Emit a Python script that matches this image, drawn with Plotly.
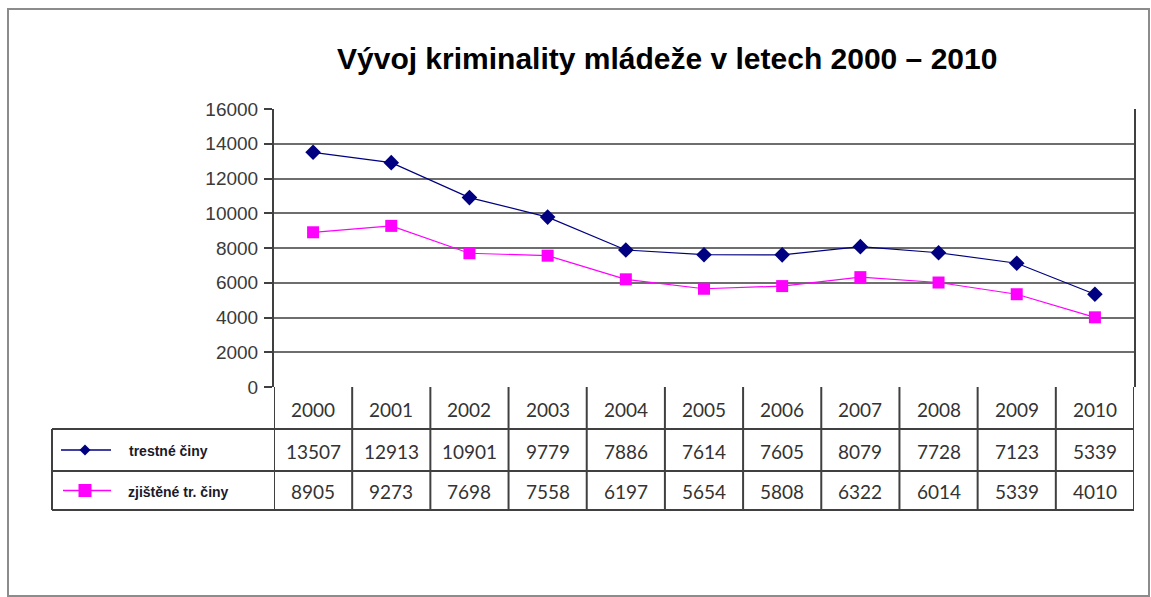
import plotly.graph_objects as go

years = ["2000", "2001", "2002", "2003", "2004", "2005", "2006", "2007", "2008", "2009", "2010"]
trestne = [13507, 12913, 10901, 9779, 7886, 7614, 7605, 8079, 7728, 7123, 5339]
zjistene = [8905, 9273, 7698, 7558, 6197, 5654, 5808, 6322, 6014, 5339, 4010]
series_names = ["trestné činy", "zjištěné tr. činy"]
title = "Vývoj kriminality mládeže v letech 2000 – 2010"

W, H = 1151, 597
def px(x):
    return x / W
def py(y):
    return 1 - y / H

PL, PR, PT, PB = 274, 1134, 109, 387   # plot area in pixels
TB = 510                               # table bottom
ROW1, ROW2 = 429, 471                  # table row lines
TL = 52                                # table left edge

idx = list(range(len(years)))
NAVY = "#000080"
PINK = "#FF00FF"
GRID = "#6e6e6e"
LINE = "#404040"
TXT = "#333333"

fig = go.Figure()
fig.add_trace(go.Scatter(x=idx, y=trestne, mode="lines+markers", name=series_names[0],
                         line=dict(color=NAVY, width=1.2),
                         marker=dict(symbol="diamond", size=12, color=NAVY)))
fig.add_trace(go.Scatter(x=idx, y=zjistene, mode="lines+markers", name=series_names[1],
                         line=dict(color=PINK, width=1.2),
                         marker=dict(symbol="square", size=12, color=PINK)))

shapes = []
ann = []

# outer frame
shapes.append(dict(type="rect", xref="paper", yref="paper", x0=px(8), x1=px(1149), y0=py(596), y1=py(9),
                   line=dict(color="#8c8c8c", width=2)))

# table vertical lines (category boundaries)
for i in range(len(years) + 1):
    shapes.append(dict(type="line", xref="x", yref="paper", x0=i - 0.5, x1=i - 0.5,
                       y0=py(TB), y1=py(PB), line=dict(color=LINE, width=2)))
# table left edge
shapes.append(dict(type="line", xref="paper", yref="paper", x0=px(TL), x1=px(TL),
                   y0=py(TB), y1=py(ROW1), line=dict(color=LINE, width=2)))
# table horizontal lines
for yy in (ROW1, ROW2, TB):
    shapes.append(dict(type="line", xref="paper", yref="paper", x0=px(TL), x1=px(PR),
                       y0=py(yy), y1=py(yy), line=dict(color=LINE, width=2)))

# legend keys inside table
ly1 = (ROW1 + ROW2) / 2
ly2 = (ROW2 + TB) / 2
KX = 85
shapes.append(dict(type="line", xref="paper", yref="paper", x0=px(61), x1=px(111),
                   y0=py(ly1), y1=py(ly1), line=dict(color=NAVY, width=1.5)))
d = 5.5
shapes.append(dict(type="path", xref="paper", yref="paper",
                   path=f"M {px(KX-d)} {py(ly1)} L {px(KX)} {py(ly1-d)} L {px(KX+d)} {py(ly1)} L {px(KX)} {py(ly1+d)} Z",
                   fillcolor=NAVY, line=dict(color=NAVY, width=0)))
shapes.append(dict(type="line", xref="paper", yref="paper", x0=px(63), x1=px(111),
                   y0=py(ly2), y1=py(ly2), line=dict(color=PINK, width=1.5)))
s = 6.5
shapes.append(dict(type="rect", xref="paper", yref="paper", x0=px(KX-s), x1=px(KX+s),
                   y0=py(ly2+s), y1=py(ly2-s), fillcolor=PINK, line=dict(color=PINK, width=0)))

ann.append(dict(text=f"<b>{series_names[0]}</b>", xref="paper", yref="paper", x=px(127), y=py(ly1 + 1),
                xanchor="left", yanchor="middle", showarrow=False,
                font=dict(family="Liberation Sans", size=14, color="#1a1a2a")))
ann.append(dict(text=f"<b>{series_names[1]}</b>", xref="paper", yref="paper", x=px(126), y=py(ly2 + 1),
                xanchor="left", yanchor="middle", showarrow=False,
                font=dict(family="Liberation Sans", size=14, color="#1a1a2a")))

yr_y = (PB + ROW1) / 2 + 1
for i, yv in enumerate(years):
    ann.append(dict(text=yv, xref="x", yref="paper", x=i, y=py(yr_y), showarrow=False,
                    xanchor="center", yanchor="middle", font=dict(family="Lato", size=19, color=TXT)))
    ann.append(dict(text=str(trestne[i]), xref="x", yref="paper", x=i, y=py(ly1 + 1), showarrow=False,
                    xanchor="center", yanchor="middle", font=dict(family="Lato", size=19, color=TXT)))
    ann.append(dict(text=str(zjistene[i]), xref="x", yref="paper", x=i, y=py(ly2 + 1), showarrow=False,
                    xanchor="center", yanchor="middle", font=dict(family="Lato", size=19, color=TXT)))

# title
ann.append(dict(text=f"<b>{title}</b>", xref="paper", yref="paper", x=px(667), y=py(58),
                xanchor="center", yanchor="middle", showarrow=False,
                font=dict(family="Liberation Sans", size=30, color="#000000")))

fig.update_layout(
    width=W, height=H,
    margin=dict(l=0, r=0, t=0, b=0, autoexpand=False),
    paper_bgcolor="white", plot_bgcolor="white",
    showlegend=False,
    shapes=shapes, annotations=ann,
    xaxis=dict(domain=[px(PL), px(PR)], range=[-0.5, len(years) - 0.5], automargin=False,
               showticklabels=False, showgrid=False, zeroline=False, ticks="",
               showline=False, fixedrange=True),
    yaxis=dict(domain=[py(PB), py(PT)], range=[0, 16000], dtick=2000, tickformat="d", automargin=False,
               showgrid=True, gridcolor=GRID, gridwidth=2, zeroline=False,
               showline=True, linecolor=LINE, linewidth=2, mirror=True,
               ticks="outside", ticklen=8, tickcolor=LINE, tickwidth=2,
               tickfont=dict(family="Liberation Sans", size=19, color="#3a3a3a"),
               ticklabelstandoff=2, fixedrange=True),
)

fig.write_html("out.html", config={"displayModeBar": False},
               post_script="document.body.style.margin='0';document.body.style.overflow='hidden';")
